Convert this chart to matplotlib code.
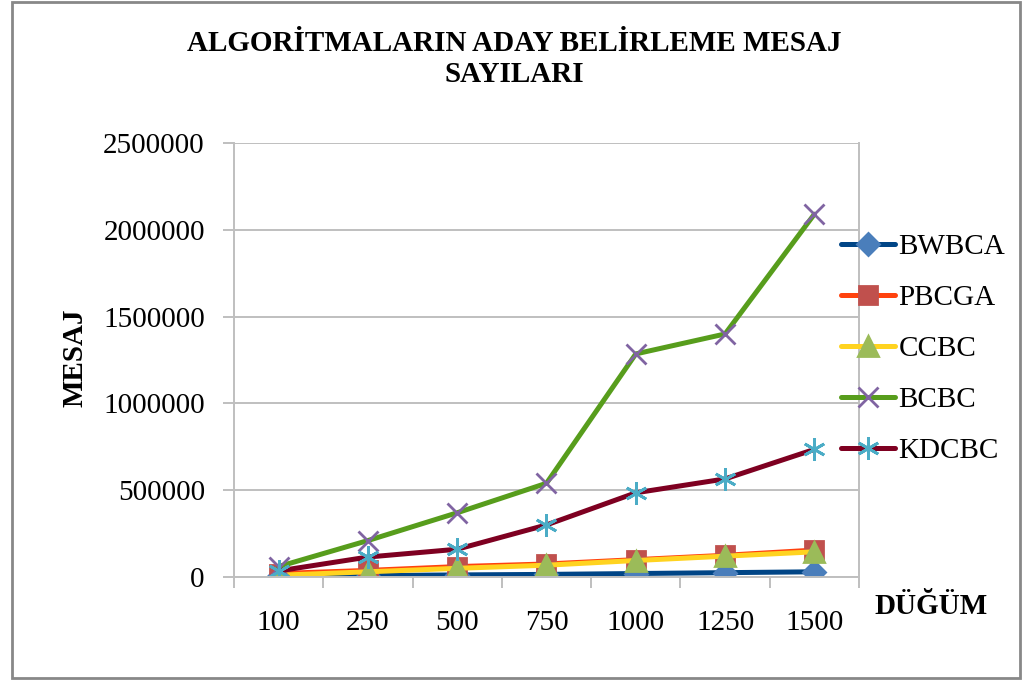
import matplotlib
matplotlib.use("Agg")
import matplotlib.pyplot as plt
from matplotlib.patches import Rectangle

plt.rcParams['font.family'] = ['Liberation Serif', 'DejaVu Serif']

# ---------------------------------------------------------------------------
# data
# ---------------------------------------------------------------------------
nodes = ["100", "250", "500", "750", "1000", "1250", "1500"]

bwbca = [3000, 8000, 12000, 15000, 20000, 25000, 30000]
pbcga = [20000, 38000, 60000, 75000, 100000, 125000, 155000]
ccbc = [10000, 30000, 50000, 68000, 95000, 120000, 145000]
bcbc = [60000, 210000, 370000, 540000, 1285000, 1400000, 2090000]
kdcbc = [35000, 115000, 160000, 300000, 485000, 565000, 735000]

series_names = ["BWBCA", "PBCGA", "CCBC", "BCBC", "KDCBC"]
y_ticks = [0, 500000, 1000000, 1500000, 2000000, 2500000]

# styles: (line colour, marker, marker colour, marker size)
styles = [
    ("#004586", "D", "#4A7EBB", 11),
    ("#FF420E", "s", "#C0504D", 13),
    ("#FFD320", "^", "#9BBB59", 15),
    ("#579D1C", "x", "#8064A2", 15),
    ("#7E0021", (6, 2, 0), "#4BACC6", 16),
]

# ---------------------------------------------------------------------------
# figure
# ---------------------------------------------------------------------------
W, H = 1034, 684
fig = plt.figure(figsize=(W / 100, H / 100), dpi=100)
ax = fig.add_axes([234 / W, 1 - 577 / H, (859 - 234) / W, (577 - 143) / H])

x = list(range(len(nodes)))
for name, vals, (lc, mk, mc, ms) in zip(series_names,
                                        [bwbca, pbcga, ccbc, bcbc, kdcbc],
                                        styles):
    ax.plot(x, vals, color=lc, lw=3.6, marker=mk, markersize=ms,
            markerfacecolor=mc, markeredgecolor=mc, markeredgewidth=2,
            label=name, solid_capstyle='round')

ax.set_xlim(-0.5, len(nodes) - 0.5)
ax.set_ylim(0, 2500000)

grid_c = "#BFBFBF"
ax.set_yticks(y_ticks)
ax.set_yticklabels([str(v) for v in y_ticks])
ax.yaxis.grid(True, color=grid_c, lw=1.4)
ax.set_axisbelow(True)

# category boundaries carry the tick marks, labels sit on the centres
ax.set_xticks([i - 0.5 for i in range(len(nodes) + 1)])
ax.set_xticklabels([])
ax.set_xticks(x, minor=True)
ax.set_xticklabels(nodes, minor=True)
ax.tick_params(axis='x', which='major', length=8, width=1.4, color=grid_c)
ax.tick_params(axis='x', which='minor', length=0, pad=24, labelsize=21)
ax.tick_params(axis='y', length=8, width=1.4, color=grid_c, pad=13, labelsize=21)

for side in ["left", "bottom", "right"]:
    ax.spines[side].set_color(grid_c)
    ax.spines[side].set_linewidth(1.4)
ax.spines["top"].set_visible(False)

# titles and labels
fig.text(514 / W, 1 - 59 / H, "ALGORİTMALARIN ADAY BELİRLEME MESAJ\nSAYILARI",
         ha='center', va='center', fontsize=21, fontweight='bold',
         linespacing=1.2)
fig.text(75 / W, 1 - 358 / H, "MESAJ", rotation=90, ha='center', va='center',
         fontsize=21, fontweight='bold')
fig.text(931 / W, 1 - 606 / H, "DÜĞÜM", ha='center', va='center',
         fontsize=21, fontweight='bold')

leg = ax.legend(loc='center left', bbox_to_anchor=(841 / W, 1 - 349 / H),
                bbox_transform=fig.transFigure, frameon=False, fontsize=21,
                borderpad=0, borderaxespad=0, handlelength=1.85,
                handletextpad=0.12, labelspacing=0.84)

# outer chart border
fig.patches.append(Rectangle((12 / W, 1 - 678 / H), (1020 - 12) / W,
                             (678 - 2) / H, transform=fig.transFigure,
                             fill=False, edgecolor="#888888", lw=2))

fig.savefig("out.png", dpi=100)
